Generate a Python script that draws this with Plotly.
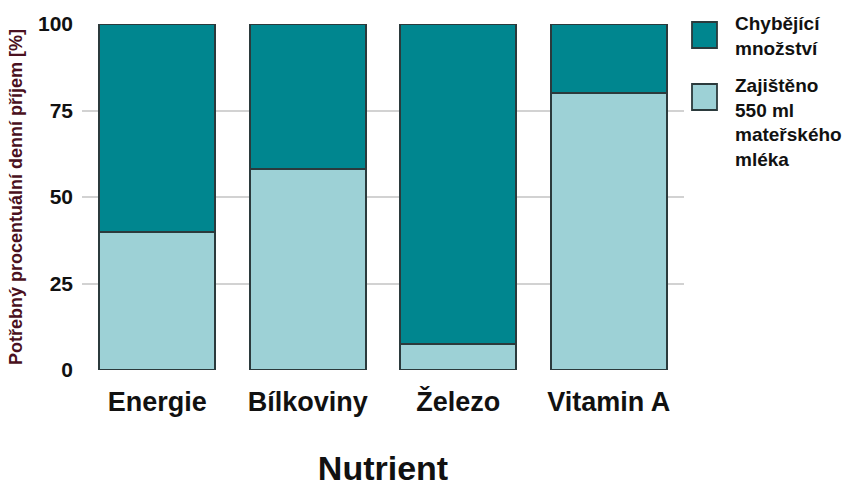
import plotly.graph_objects as go

NUTRIENTY = ["Energie", "Bílkoviny", "Železo", "Vitamin A"]
ZAJISTENO = [40, 58, 7.5, 80]
CHYBEJICI = [100 - v for v in ZAJISTENO]
Y_TICKY = [0, 25, 50, 75, 100]

LEGENDA_TEXTY = ["Chybějící<br>množství", "Zajištěno<br>550 ml<br>mateřského<br>mléka"]

TMAVA = "#00868F"
SVETLA = "#9DD1D6"
OBRYS = "#2b3a3c"
FONT = "Liberation Sans, Arial, sans-serif"

SIRKA, VYSKA = 867, 490
OKRAJ = dict(l=82, r=183, t=24, b=120)
PLOCHA_W = SIRKA - OKRAJ["l"] - OKRAJ["r"]
PLOCHA_H = VYSKA - OKRAJ["t"] - OKRAJ["b"]


def px_x(x):
    return (x - OKRAJ["l"]) / PLOCHA_W


def px_y(y):
    return (VYSKA - OKRAJ["b"] - y) / PLOCHA_H


fig = go.Figure()
fig.add_trace(
    go.Bar(
        x=NUTRIENTY,
        y=ZAJISTENO,
        marker=dict(color=SVETLA, line=dict(color=OBRYS, width=1.8)),
        showlegend=False,
    )
)
fig.add_trace(
    go.Bar(
        x=NUTRIENTY,
        y=CHYBEJICI,
        marker=dict(color=TMAVA, line=dict(color=OBRYS, width=1.8)),
        showlegend=False,
    )
)

# legenda - vetsi ctverce nez umi plotly legenda
for barva, text, horni in [(TMAVA, LEGENDA_TEXTY[0], 22), (SVETLA, LEGENDA_TEXTY[1], 84)]:
    fig.add_shape(
        type="rect", xref="paper", yref="paper",
        x0=px_x(692), x1=px_x(717), y0=px_y(horni), y1=px_y(horni + 26),
        fillcolor=barva, line=dict(color=OBRYS, width=1.8),
    )
    fig.add_annotation(
        xref="paper", yref="paper", x=px_x(733), y=px_y(horni - 11),
        xanchor="left", yanchor="top", align="left", showarrow=False,
        text=text,
        font=dict(family=FONT, size=19, color="#111", weight="bold"),
    )

fig.update_xaxes(
    showgrid=False,
    showline=False,
    ticks="",
    automargin=False,
    tickfont=dict(family=FONT, size=27, color="#111", weight="bold"),
    ticklabelstandoff=13,
    title=dict(text="Nutrient", font=dict(family=FONT, size=34, color="#111", weight="bold"), standoff=40),
)
fig.update_yaxes(
    range=[0, 100],
    tickvals=Y_TICKY,
    showgrid=True,
    gridcolor="#d2d2d2",
    gridwidth=2,
    zeroline=False,
    showline=False,
    ticks="",
    automargin=False,
    tickfont=dict(family=FONT, size=21, color="#111", weight="bold"),
    ticklabelstandoff=8,
    title=dict(
        text="Potřebný procentuální denní příjem [%]",
        font=dict(family=FONT, size=18, color="#4a1020", weight="bold"),
        standoff=10,
    ),
)
fig.update_layout(
    width=SIRKA,
    height=VYSKA,
    barmode="stack",
    bargap=0.23,
    margin=OKRAJ,
    plot_bgcolor="#ffffff",
    paper_bgcolor="#ffffff",
    font=dict(family=FONT),
    showlegend=False,
)

fig.write_html(
    "out.html",
    config={"displayModeBar": False},
    post_script="document.body.style.margin='0';",
)
